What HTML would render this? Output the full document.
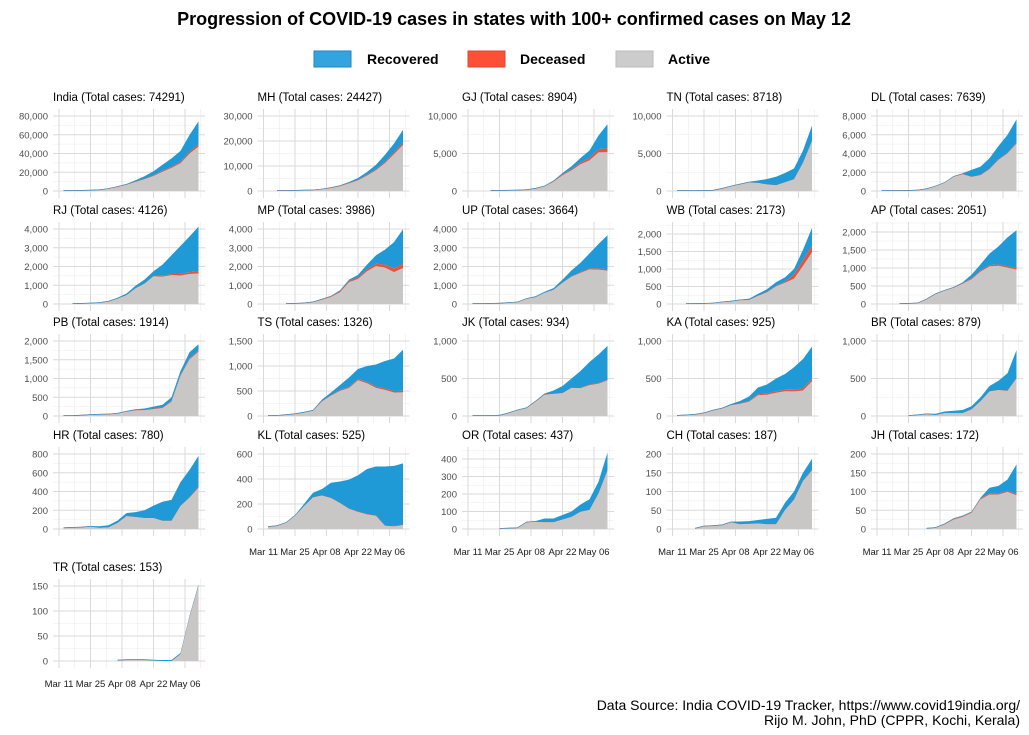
<!DOCTYPE html>
<html><head><meta charset="utf-8"><style>
body{margin:0;background:#fff;}
svg{display:block;font-family:"Liberation Sans",Arial,sans-serif;}
</style></head><body>
<svg id="c" width="1029" height="735" viewBox="0 0 1029 735">
<text x="514" y="25" text-anchor="middle" font-size="18" font-weight="bold" fill="#000">Progression of COVID-19 cases in states with 100+ confirmed cases on May 12</text>
<g>
<rect x="314" y="51" width="37" height="16" fill="#34a4de" stroke="#1f86c4"/>
<text x="367" y="64" font-size="14" font-weight="bold">Recovered</text>
<rect x="468" y="51" width="37" height="16" fill="#fd5035" stroke="#d84a32"/>
<text x="520" y="64" font-size="14" font-weight="bold">Deceased</text>
<rect x="616" y="51" width="37" height="16" fill="#cccccc" stroke="#bbbbbb"/>
<text x="668" y="64" font-size="14" font-weight="bold">Active</text>
</g>
<text x="1020" y="710" text-anchor="end" font-size="14">Data Source: India COVID-19 Tracker, https://www.covid19india.org/</text>
<text x="1020" y="725" text-anchor="end" font-size="14">Rijo M. John, PhD (CPPR, Kochi, Kerala)</text>
</svg>
<script>
// sample dates: every 4 days from Mar 13 (day 2 after Mar 11) to May 12
const sampleDays = [2,6,10,14,18,22,26,30,34,38,42,46,50,54,58,62];
const xTickLabels = ["Mar 11","Mar 25","Apr 08","Apr 22","May 06"];
const xTickDays = [0,14,28,42,56];
const states = ["India","MH","GJ","TN","DL","RJ","MP","UP","WB","AP","PB","TS","JK","KA","BR","HR","KL","OR","CH","JH","TR"];
const totalCases = [74291,24427,8904,8718,7639,4126,3986,3664,2173,2051,1914,1326,934,925,879,780,525,437,187,172,153];
const tickStep = [20000,10000,5000,5000,2000,1000,1000,1000,500,500,500,500,500,500,500,200,200,100,50,50,50];
const tickMax = [80000,30000,10000,10000,8000,4000,4000,4000,2000,2000,2000,1500,1000,1000,1000,800,600,400,200,200,150];
const totals = [
[80,140,330,600,1100,2500,4800,7600,11400,15700,21000,27900,34800,42800,59700,74291],
[0,40,60,110,200,340,750,1400,2300,3600,5200,7600,10500,14500,19000,24427],
[0,0,10,40,60,90,150,350,700,1400,2400,3300,4400,5400,7400,8904],
[1,1,3,18,50,310,620,900,1200,1400,1600,1900,2400,3000,5400,8718],
[5,7,27,35,70,210,520,900,1560,1900,2250,2600,3500,4800,5980,7639],
[0,4,20,36,60,150,330,560,970,1300,1750,2100,2600,3100,3600,4126],
[0,0,5,15,40,100,250,430,730,1300,1550,2100,2600,2900,3300,3986],
[10,15,25,35,70,110,300,410,650,850,1300,1790,2200,2700,3200,3664],
[0,1,3,9,20,55,80,120,150,290,420,620,760,1000,1550,2173],
[0,0,1,8,20,130,280,380,470,600,810,1100,1400,1600,1850,2051],
[1,1,14,29,38,46,70,130,180,200,250,300,500,1200,1700,1914],
[1,5,21,39,70,110,330,470,620,770,940,1000,1030,1100,1150,1326],
[1,3,4,7,40,80,110,200,300,340,400,500,600,720,820,934],
[4,11,20,41,80,110,160,200,260,380,420,500,560,650,760,925],
[0,0,0,3,12,25,30,60,70,80,130,250,400,470,570,879],
[10,14,16,26,30,40,90,170,180,200,250,290,310,500,630,780],
[19,27,52,110,200,290,320,370,380,395,430,480,500,500,505,525],
[0,0,0,1,3,5,40,45,60,60,80,100,140,170,270,437],
[0,0,1,7,8,10,18,20,21,24,27,30,70,100,150,187],
[0,0,0,0,0,1,3,13,27,34,45,82,110,115,132,172],
[0,0,0,0,0,0,1,2,2,2,2,2,2,16,90,153]];
const recovered = [
[10,15,25,45,100,190,350,780,1300,2500,4300,6400,9000,11800,17800,24400],
[0,0,0,0,10,40,60,120,220,350,720,1100,1800,2800,3500,5100],
[0,0,0,0,2,5,15,30,60,100,180,400,610,1000,1800,3200],
[0,0,0,1,2,6,8,20,60,300,700,1100,1200,1400,1600,2000],
[0,2,5,6,7,8,20,25,30,70,700,850,1100,1400,1900,2500],
[0,0,2,3,3,20,40,80,120,200,250,600,1000,1500,1900,2380],
[0,0,0,0,0,0,0,20,50,70,130,250,450,800,1400,1840],
[2,4,9,11,14,17,25,40,50,80,150,300,500,800,1300,1800],
[0,0,0,0,0,3,5,10,30,50,70,100,125,150,300,500],
[0,0,0,0,0,1,3,7,15,20,100,170,320,500,800,1050],
[0,0,0,0,1,1,4,10,20,30,50,70,100,110,160,170],
[0,1,1,1,1,1,30,50,100,190,200,320,440,550,650,822],
[0,0,1,1,2,3,4,6,12,40,90,120,220,300,380,450],
[0,1,2,3,5,9,13,30,60,90,120,170,210,300,390,430],
[0,0,0,0,0,0,15,20,30,40,40,50,70,120,230,370],
[0,0,0,0,17,21,25,30,50,80,130,200,220,250,290,330],
[3,3,3,4,16,35,50,120,170,230,290,360,390,470,480,489],
[0,0,0,0,0,0,2,4,20,20,25,30,40,60,65,100],
[0,0,0,0,0,0,0,7,7,9,14,17,19,21,21,28],
[0,0,0,0,0,0,0,0,0,0,0,0,15,20,30,79],
[0,0,0,0,0,0,0,0,0,0,1,2,2,2,2,2]];
const deceased = [
[2,3,5,10,30,70,140,250,380,520,680,880,1150,1390,1980,2420],
[0,0,1,3,8,15,45,100,160,210,250,320,430,550,730,920],
[0,0,0,2,5,7,12,17,30,60,110,160,220,320,450,540],
[0,0,0,1,1,1,5,8,12,15,18,23,27,33,40,61],
[0,1,1,1,2,4,8,15,30,45,50,55,60,65,66,86],
[0,0,0,0,0,1,2,3,8,14,25,40,60,80,100,117],
[0,0,0,1,3,8,20,35,50,70,80,100,130,160,200,225],
[0,0,0,0,0,2,3,4,5,13,20,30,40,55,65,80],
[0,0,1,1,2,3,5,5,7,10,15,18,30,130,160,200],
[0,0,0,0,0,3,4,6,9,15,24,31,35,36,40,46],
[0,0,1,1,1,5,6,8,12,14,15,17,20,22,30,32],
[0,0,0,0,1,4,9,12,18,20,24,26,27,29,30,32],
[0,0,0,0,2,2,2,3,4,5,5,6,8,8,9,10],
[0,1,1,1,3,3,4,6,10,13,17,19,21,22,30,31],
[0,0,0,1,1,1,1,1,2,2,2,2,2,3,5,6],
[0,0,0,0,0,0,1,2,2,3,3,3,3,4,5,11],
[0,0,0,0,0,2,2,2,2,3,3,3,4,4,4,4],
[0,0,0,0,0,0,0,0,1,1,1,1,1,1,2,3],
[0,0,0,0,0,0,0,0,0,0,0,0,0,1,1,3],
[0,0,0,0,0,0,0,1,2,2,2,3,3,3,3,3],
[0,0,0,0,0,0,0,0,0,0,0,0,0,0,0,0]];

const NS="http://www.w3.org/2000/svg";
const svg=document.getElementById('c');
const rowZero=[191,304,416,529,661];
const topPxDefault=75;
const topPxOverride={WB:70,AP:72,OR:70};
function mk(tag,attrs,parent){const e=document.createElementNS(NS,tag);for(const k in attrs)e.setAttribute(k,attrs[k]);(parent||svg).appendChild(e);return e;}
function fmt(v){return v.toLocaleString('en-US');}

states.forEach((st,p)=>{
  const col=p%5,row=Math.floor(p/5);
  const x0=59+col*204.5, zero=rowZero[row];
  const topPx=topPxOverride[st]||topPxDefault;
  const xs=d=>x0+d*2.25;
  const ys=v=>zero-v*topPx/tickMax[p];
  const g=mk('g',{});
  
  
  const left=x0-6,right=x0+146,top=zero-82,bottom=zero+7;
  for(let v=tickStep[p]/2;v<tickMax[p]+tickStep[p];v+=tickStep[p]){const y=ys(v);if(y<top)break;mk('line',{x1:left,x2:right,y1:y,y2:y,stroke:'#ececec','stroke-width':0.6},g);}
  for(let d=7;d<=63;d+=14){mk('line',{x1:xs(d),x2:xs(d),y1:top,y2:bottom,stroke:'#ececec','stroke-width':0.6},g);}
  for(let v=0;v<=tickMax[p];v+=tickStep[p]){const y=ys(v);
    mk('line',{x1:left,x2:right,y1:y,y2:y,stroke:'#dadada','stroke-width':1},g);
    const t=mk('text',{x:x0-11,y:y+3.5,'text-anchor':'end','font-size':9.5,fill:'#4d4d4d'},g);
    
    
    t.textContent=fmt(v);}
  xTickDays.forEach((d,i)=>{mk('line',{x1:xs(d),x2:xs(d),y1:top,y2:bottom,stroke:'#dadada','stroke-width':1},g);});
  const showX = row===4 || (row===3 && col>=1);
  if(showX){xTickDays.forEach((d,i)=>{const t=mk('text',{x:xs(d),y:zero+26,'text-anchor':'middle','font-size':9.5,fill:'#1a1a1a'},g);
    
    
    t.textContent=xTickLabels[i];});}
  // stacked areas from sample points
  let first=totals[p].findIndex(v=>v>0); if(first<0)return;
  const idx=[];for(let i=first;i<sampleDays.length;i++)idx.push(i);
  function area(lowerFn,upperFn,fill,name,minH){
    let up=[],lo=[];
    idx.forEach(i=>{const x=xs(sampleDays[i]);let yl=ys(lowerFn(i)),yu=ys(upperFn(i));if(yl-yu<minH)yu=yl-minH;up.push(x.toFixed(1)+','+yu.toFixed(1));lo.push(x.toFixed(1)+','+yl.toFixed(1));});
    const path=mk('polygon',{points:up.concat(lo.reverse()).join(' '),fill:fill},g);
    
    
  }
  const act=i=>totals[p][i]-recovered[p][i]-deceased[p][i];
  area(i=>0,i=>act(i),'#c9c6c6','area-active',0.8);
  area(i=>act(i),i=>act(i)+deceased[p][i],'#e8533a','area-deceased',0.7);
  area(i=>act(i)+deceased[p][i],i=>totals[p][i],'#1f9ad6','area-recovered',0.6);
  const tt=mk('text',{x:x0-6,y:zero-90,'font-size':11.5,fill:'#000'},g);
  
  
  tt.textContent=st+' (Total cases: '+totalCases[p]+')';
});
</script>
</body></html>
